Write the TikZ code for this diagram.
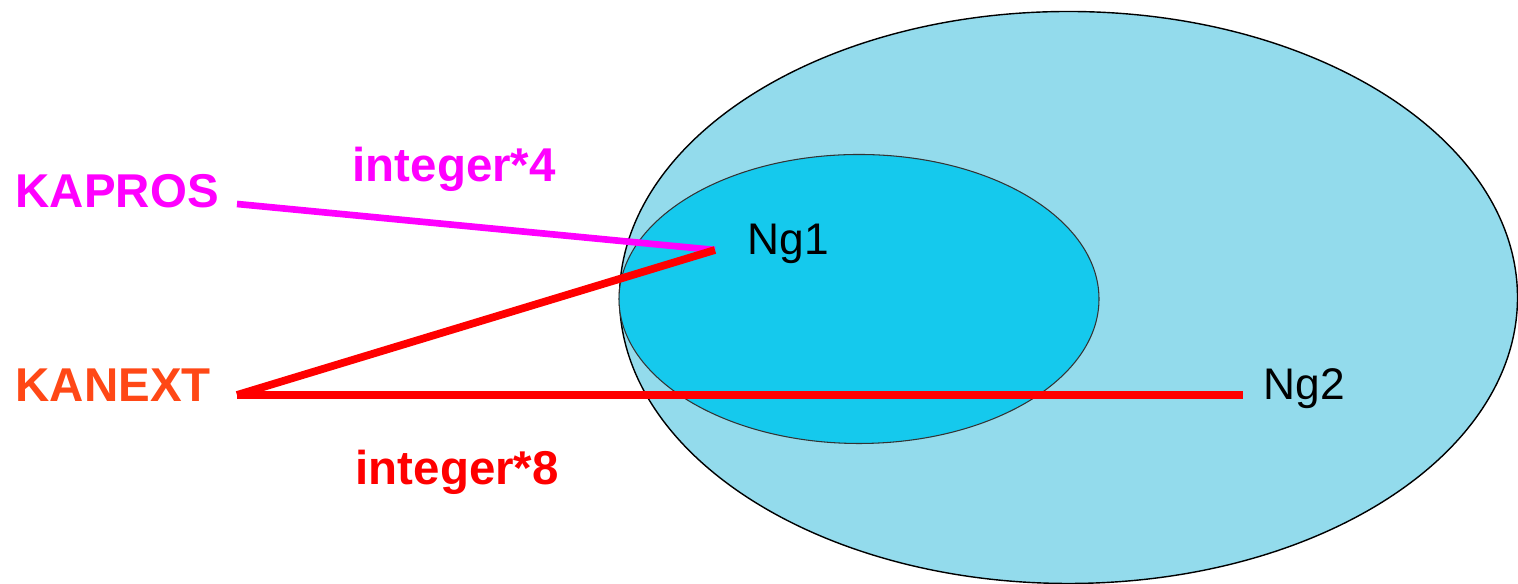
\documentclass[tikz,border=0pt]{standalone}
\usepackage{fontspec}
\setmainfont{Liberation Sans}
\usetikzlibrary{calc}
\definecolor{outerblue}{RGB}{147,219,236}
\definecolor{innerblue}{RGB}{21,201,237}
\definecolor{kanextred}{RGB}{255,72,22}
\definecolor{kaprosmag}{RGB}{255,0,255}
\definecolor{linkred}{RGB}{255,0,0}
\tikzset{every node/.style={inner sep=0pt,anchor=base west},
typelabel/.style={font=\fontsize{13.5}{16}\selectfont\bfseries},
grouplabel/.style={font=\fontsize{12.6}{15}\selectfont},
link/.style={line width=2.2pt}}
\begin{document}
\begin{tikzpicture}
\useasboundingbox (0,0) rectangle (15.18,5.84);
\begin{scope}
\clip (0,0) rectangle (15.18,5.84);
\draw[fill=outerblue,line width=.4pt] (10.685,2.865) ellipse (4.49 and 2.86);
\draw[fill=innerblue,line width=.3pt,draw=black!80] (8.59,2.85) ellipse (2.40 and 1.445);
\end{scope}
\coordinate (kap) at (2.37,3.80);\coordinate (kan) at (2.37,1.89);
\coordinate (g1) at (7.15,3.34);\coordinate (g2) at (12.43,1.89);
\node[typelabel,text=kaprosmag] (kapros) at (0.15,3.76){KAPROS};
\node[typelabel,text=kanextred] (kanext) at (0.15,1.82){KANEXT};
\node[typelabel,text=kaprosmag] (i4) at (3.52,4.02){integer*4};
\node[typelabel,text=linkred] (i8) at (3.55,0.99){integer*8};
\node[grouplabel] (ng1) at (7.47,3.29){Ng1};\node[grouplabel] (ng2) at (12.63,1.84){Ng2};
\draw[link,kaprosmag,line width=1.9pt] (kap)--(g1);
\draw[link,linkred] (kan)--(g1);\draw[link,linkred] (kan)--(g2);
\end{tikzpicture}
\end{document}
